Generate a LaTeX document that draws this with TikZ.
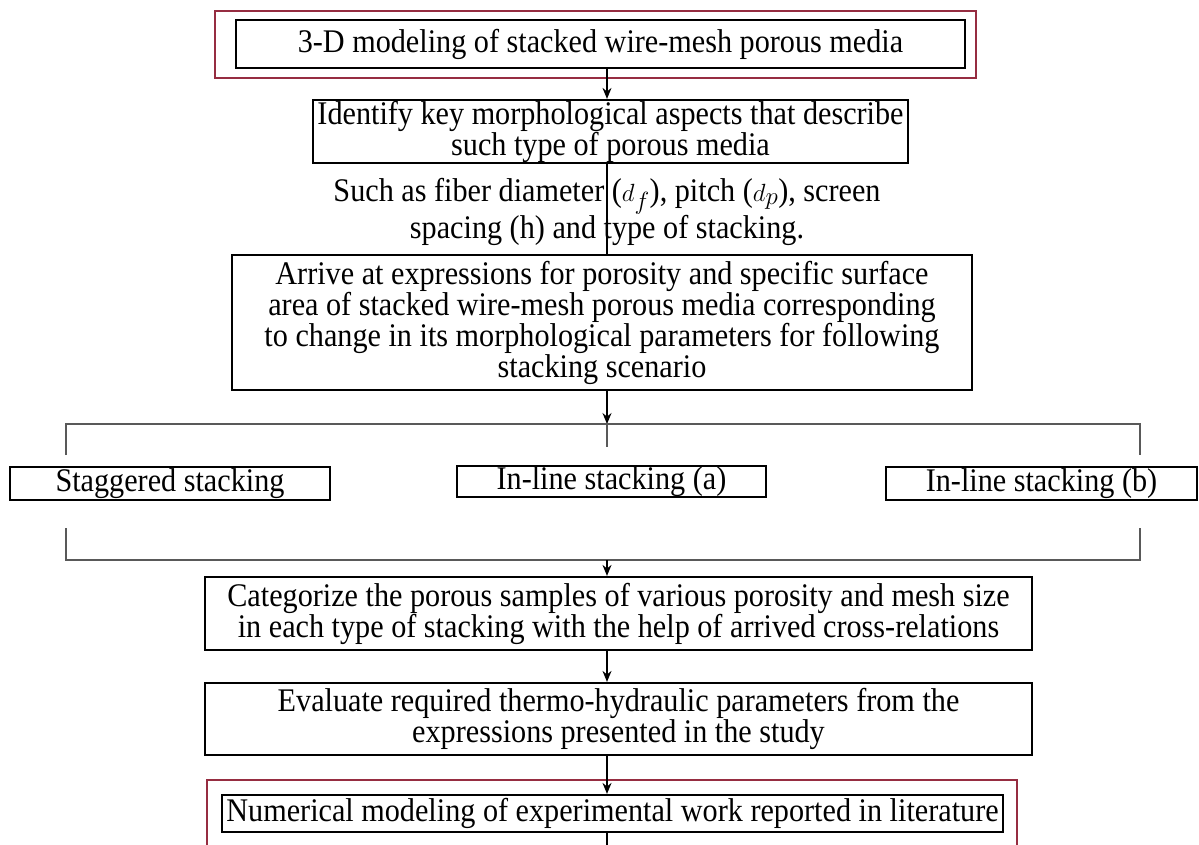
\documentclass[tikz,border=0pt]{standalone}
\usepackage{fontspec}
\setmainfont[FakeStretch=0.915]{Liberation Serif}
\usetikzlibrary{arrows.meta,positioning,calc}
\definecolor{framered}{RGB}{150,45,65}

\begin{document}
\begin{tikzpicture}[x=1pt,y=-1pt,
  font=\fontsize{33}{31}\selectfont,
  box/.style={draw, line width=2.2pt, align=center, inner sep=0pt},
  redframe/.style={draw=framered, line width=2pt},
  link/.style={line width=1.4pt},
  arr/.style={link, -{Stealth[length=11pt,width=9pt]}},
  bracket/.style={line width=1.6pt, draw=black!65}]
  \useasboundingbox (0,0) rectangle (1199,845);

  \coordinate (spine) at (607,0);
  \coordinate (top) at (607,424);
  \coordinate (bot) at (607,560);
  \coordinate (tl) at (66,455);
  \coordinate (tr) at (1140,455);
  \coordinate (tm) at (607,447);
  \coordinate (bl) at (66,528);
  \coordinate (br) at (1140,528);
  \coordinate (tail) at (607,845);

  \node[box, minimum width=729pt, minimum height=48pt] (model) at (600.5,44)
    {3-D modeling of stacked wire-mesh porous media};
  \node[box, minimum width=595pt, minimum height=63pt] (identify) at (610.5,131.5)
    {Identify key morphological aspects that describe\\ such type of porous media};
  \node[align=center, inner sep=0pt] (aspects) at (607,212)
    {Such as fiber diameter ($d_f$), pitch ($d_p$), screen\\ spacing (h) and type of stacking.};
  \node[box, minimum width=740pt, minimum height=135pt] (arrive) at (602,322.5)
    {Arrive at expressions for porosity and specific surface\\ area of stacked wire-mesh porous media corresponding\\ to change in its morphological parameters for following\\ stacking scenario};
  \node[box, minimum width=320pt, minimum height=33pt] (stag) at (170,483.5) {Staggered stacking};
  \node[box, minimum width=309pt, minimum height=31pt] (inlinea) at (611.5,481.5) {In-line stacking (a)};
  \node[box, minimum width=311pt, minimum height=33pt] (inlineb) at (1041.5,483.5) {In-line stacking (b)};
  \node[box, minimum width=827pt, minimum height=73pt] (categorize) at (618.5,613.5)
    {Categorize the porous samples of various porosity and mesh size\\ in each type of stacking with the help of arrived cross-relations};
  \node[box, minimum width=827pt, minimum height=72pt] (evaluate) at (618.5,719)
    {Evaluate required thermo-hydraulic parameters from the\\ expressions presented in the study};
  \node[box, minimum width=781pt, minimum height=37pt] (numerical) at (612.5,813.5)
    {Numerical modeling of experimental work reported in literature};

  % red frames round first and last step
  \draw[redframe] ($(model.south west)+(-20,9)$) rectangle ($(model.north east)+(10,-8)$);
  \draw[redframe] ($(numerical.north west)+(-14,-14)$) rectangle ($(numerical.south east)+(13,20)$);

  \draw[arr] (model.south -| spine) -- (identify.north -| spine);
  \draw[link] (identify.south -| spine) -- (arrive.north -| spine);
  \draw[arr] (arrive.south -| spine) -- (top);

  % split to the three stackings and join again
  \draw[bracket] (tl) |- (top) -| (tr);
  \draw[bracket] (top) -- (tm);
  \draw[bracket] (bl) |- (bot) -| (br);

  \draw[arr] (bot) -- (categorize.north -| spine);
  \draw[arr] (categorize.south -| spine) -- (evaluate.north -| spine);
  \draw[arr] (evaluate.south -| spine) -- (numerical.north -| spine);
  \draw[link] (numerical.south -| spine) -- (tail);
\end{tikzpicture}
\end{document}
